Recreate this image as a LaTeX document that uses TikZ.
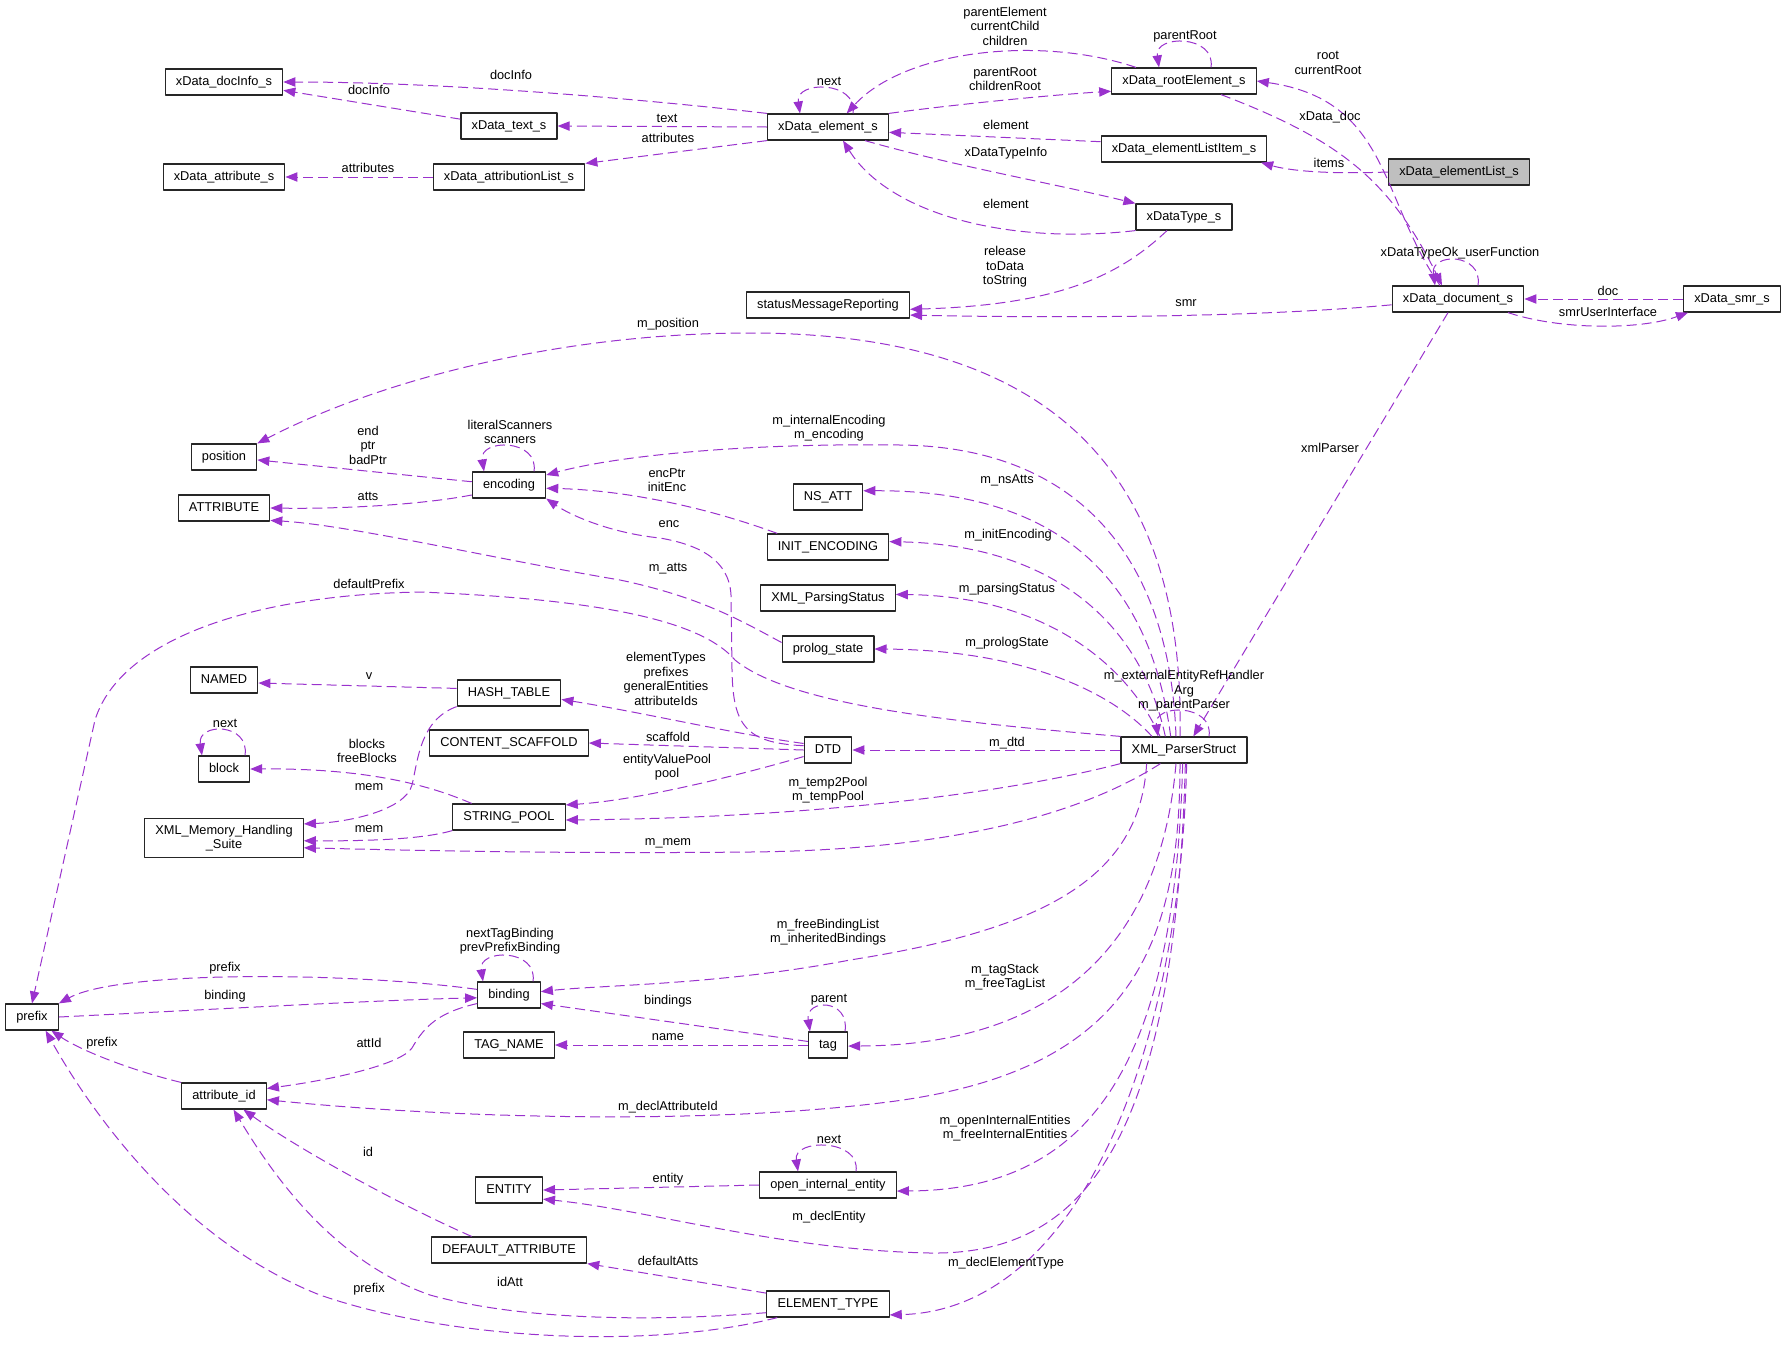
\documentclass[tikz,border=0pt]{standalone}
\usepackage{fontspec}
\setmainfont{Liberation Sans}
\usetikzlibrary{arrows.meta}
\definecolor{edgecol}{HTML}{9A32CD}
\definecolor{boxgray}{HTML}{BFBFBF}
\newcommand\dgfont{\fontsize{9.6pt}{10.9pt}\selectfont}
\begin{document}
\begin{tikzpicture}[x=0.75pt,y=-0.75pt,line join=round,
  cls/.style={draw=black!85,line width=0.9pt,fill=white,font=\dgfont,inner xsep=8pt,inner ysep=0pt,minimum height=19.5pt,text height=7pt,text depth=2pt},
  cls2/.style={draw=black!85,line width=0.9pt,fill=white,font=\dgfont,inner xsep=8pt,inner ysep=5pt,align=center},
  rel/.style={draw=edgecol,line width=0.75pt,dash pattern=on 7.5pt off 3.75pt,-{Triangle[length=9pt,width=7pt]}},
  lbl/.style={font=\dgfont,inner sep=0pt,align=center}]
  \useasboundingbox (0,0) rectangle (1787,1353);
  \node[cls] (docinfo) at (224,82) {xData\_docInfo\_s};
  \node[cls] (text) at (509,126) {xData\_text\_s};
  \node[cls] (attr) at (224,177) {xData\_attribute\_s};
  \node[cls] (attrlist) at (509,177) {xData\_attributionList\_s};
  \node[cls] (elem) at (828,127) {xData\_element\_s};
  \node[cls] (root) at (1184,81) {xData\_rootElement\_s};
  \node[cls] (listitem) at (1184,149) {xData\_elementListItem\_s};
  \node[cls,fill=boxgray] (list) at (1459,172) {xData\_elementList\_s};
  \node[cls] (dtype) at (1184,217) {xDataType\_s};
  \node[cls] (smr) at (828,305) {statusMessageReporting};
  \node[cls] (doc) at (1458,299) {xData\_document\_s};
  \node[cls] (smrs) at (1732,299) {xData\_smr\_s};
  \node[cls] (position) at (224,457) {position};
  \node[cls] (attribute) at (224,508) {ATTRIBUTE};
  \node[cls] (encoding) at (509,485) {encoding};
  \node[cls] (named) at (224,680) {NAMED};
  \node[cls] (hash) at (509,693) {HASH\_TABLE};
  \node[cls] (scaffold) at (509,743) {CONTENT\_SCAFFOLD};
  \node[cls] (block) at (224,769) {block};
  \node[cls] (spool) at (509,817) {STRING\_POOL};
  \node[cls2] (memsuite) at (224,838) {XML\_Memory\_Handling\\\_Suite};
  \node[cls] (nsatt) at (828,497) {NS\_ATT};
  \node[cls] (initenc) at (828,547) {INIT\_ENCODING};
  \node[cls] (pstatus) at (828,598) {XML\_ParsingStatus};
  \node[cls] (prolog) at (828,649) {prolog\_state};
  \node[cls] (dtd) at (828,750) {DTD};
  \node[cls] (parser) at (1184,750) {XML\_ParserStruct};
  \node[cls] (prefix) at (32,1017) {prefix};
  \node[cls] (binding) at (509,995) {binding};
  \node[cls] (tagname) at (509,1045) {TAG\_NAME};
  \node[cls] (attid) at (224,1096) {attribute\_id};
  \node[cls] (entity) at (509,1190) {ENTITY};
  \node[cls] (defattr) at (509,1250) {DEFAULT\_ATTRIBUTE};
  \node[cls] (tag) at (828,1045) {tag};
  \node[cls] (openent) at (828,1185) {open\_internal\_entity};
  \node[cls] (elemtype) at (828,1304) {ELEMENT\_TYPE};

  \draw[rel] (elem.north west) .. controls (650,100) and (450,82) .. (docinfo.east);
  \draw[rel] (text.172) -- (docinfo.-8);
  \draw[rel] (elem.west) -- (text.east);
  \draw[rel] (elem.south west) -- (attrlist.north east);
  \draw[rel] (attrlist.west) -- (attr.east);
  \draw[rel] ([xshift=18.75pt]elem.north) .. controls +(5,-33) and +(-5,-33) .. ([xshift=-21pt]elem.north);
  \draw[rel] ([xshift=-36pt]root.north) .. controls (1040,35) and (905,50) .. ([xshift=14pt]elem.north);
  \draw[rel] (elem.north east) .. controls (950,105) and (1050,95) .. (root.188);
  \draw[rel] ([xshift=20.25pt]root.north) .. controls +(5,-33) and +(-5,-33) .. ([xshift=-18.75pt]root.north);
  \draw[rel] (listitem.175) -- (elem.-5);
  \draw[rel] ([xshift=27.75pt]elem.south) .. controls (950,165) and (1060,185) .. (dtype.north west);
  \draw[rel] (dtype.south west) .. controls (1010,245) and (890,215) .. ([xshift=11.25pt]elem.south);
  \draw[rel] ([xshift=-12.75pt]dtype.south) .. controls (1120,275) and (1060,305) .. (smr.-3);
  \draw[rel] (doc.-175) .. controls (1250,318) and (1050,318) .. (smr.-7);
  \draw[rel] (list.west) .. controls (1310,175) and (1280,168) .. (listitem.-10);
  \draw[rel] ([xshift=-13.5pt]doc.north) .. controls (1380,200) and (1390,100) .. (root.east);
  \draw[rel] ([xshift=27.75pt]root.south) .. controls (1340,140) and (1390,180) .. ([xshift=-12pt]doc.north);
  \draw[rel] ([xshift=15pt]doc.north) .. controls +(5,-33) and +(-5,-33) .. ([xshift=-17.25pt]doc.north);
  \draw[rel] (smrs.west) -- (doc.east);
  \draw[rel] ([xshift=37.5pt]doc.south) .. controls (1560,330) and (1640,330) .. ([xshift=-33pt]smrs.south);
  \draw[rel] ([xshift=-7.5pt]doc.south) -- ([xshift=7pt]parser.north);

  \draw[rel] ([xshift=-3pt]parser.north) .. controls (1185,480) and (1060,333) .. (750,333) .. controls (560,333) and (380,380) .. (position.north east);
  \draw[rel] ([xshift=-6pt]parser.north) .. controls (1170,560) and (1080,447) .. (900,445) .. controls (750,443) and (620,455) .. (encoding.15);
  \draw[rel] ([xshift=-10pt]parser.north) .. controls (1150,580) and (1060,490) .. (nsatt.10);
  \draw[rel] ([xshift=-14pt]parser.north) .. controls (1140,620) and (1050,545) .. (initenc.5);
  \draw[rel] ([xshift=-18pt]parser.north) .. controls (1125,660) and (1040,596) .. (pstatus.3);
  \draw[rel] ([xshift=-24pt]parser.north) .. controls (1110,690) and (1020,650) .. (prolog.east);
  \draw[rel] ([xshift=18.75pt]parser.north) .. controls +(5,-33) and +(-5,-33) .. ([xshift=-19.5pt]parser.north);
  \draw[rel] (parser.north west) .. controls (950,722) and (790,705) .. (735,660) .. controls (705,625) and (620,600) .. (420,592) .. controls (250,595) and (120,640) .. (95,720) -- (prefix.north);
  \draw[rel] (prolog.172) .. controls (740,620) and (700,597) .. (620,580) .. controls (500,560) and (350,525) .. (attribute.-15);
  \draw[rel] (dtd.170) .. controls (745,743) and (733,725) .. (732,670) -- (731,595) .. controls (729,560) and (700,545) .. (660,538) .. controls (610,533) and (570,515) .. (encoding.-20);
  \draw[rel] ([xshift=18.75pt]encoding.north) .. controls +(5,-33) and +(-5,-33) .. ([xshift=-18.75pt]encoding.north);
  \draw[rel] (encoding.175) -- (position.-5);
  \draw[rel] (encoding.-165) .. controls (420,505) and (340,509) .. (attribute.east);
  \draw[rel] (initenc.165) .. controls (700,505) and (620,490) .. (encoding.-5);

  \draw[rel] (hash.175) -- (named.-5);
  \draw[rel] (dtd.165) .. controls (740,735) and (640,712) .. (hash.-7);
  \draw[rel] (dtd.west) -- (scaffold.east);
  \draw[rel] (dtd.-165) .. controls (740,775) and (640,800) .. (spool.12);
  \draw[rel] (parser.west) -- (dtd.east);
  \draw[rel] (parser.south west) .. controls (1000,795) and (800,818) .. (spool.-3);
  \draw[rel] (parser.-150) .. controls (1080,815) and (950,850) .. (750,852) .. controls (550,854) and (400,850) .. (memsuite.-7);
  \draw[rel] (spool.south west) .. controls (420,840) and (360,841) .. (memsuite.-2);
  \draw[rel] (hash.south west) .. controls (420,720) and (418,760) .. (412,785) .. controls (405,810) and (350,822) .. (memsuite.10);
  \draw[rel] (spool.160) .. controls (440,790) and (380,768) .. (block.east);
  \draw[rel] ([xshift=15.75pt]block.north) .. controls +(5,-33) and +(-5,-33) .. ([xshift=-16.5pt]block.north);

  \draw[rel] (parser.-160) .. controls (1140,880) and (1040,930) .. (850,960) .. controls (720,985) and (600,985) .. (binding.6);
  \draw[rel] ([xshift=18pt]binding.north) .. controls +(5,-33) and +(-5,-33) .. ([xshift=-19.5pt]binding.north);
  \draw[rel] (binding.170) .. controls (350,972) and (120,970) .. (prefix.north east);
  \draw[rel] (prefix.east) .. controls (200,1010) and (380,1000) .. (binding.-175);
  \draw[rel] (binding.-165) .. controls (440,1012) and (425,1025) .. (412,1048) .. controls (400,1065) and (330,1080) .. (attid.10);
  \draw[rel] (attid.north west) .. controls (130,1070) and (80,1050) .. (prefix.-35);
  \draw[rel] (tag.170) -- (binding.-15);
  \draw[rel] (tag.west) -- (tagname.east);
  \draw[rel] ([xshift=12.75pt]tag.north) .. controls +(5,-33) and +(-5,-33) .. ([xshift=-13.5pt]tag.north);
  \draw[rel] ([xshift=-6pt]parser.south) .. controls (1160,950) and (1050,1045) .. (tag.-3);
  \draw[rel] ([xshift=-3pt]parser.south) .. controls (1180,960) and (1120,1075) .. (880,1103) .. controls (700,1125) and (450,1118) .. (attid.-5);
  \draw[rel] ([xshift=-1pt]parser.south) .. controls (1175,1050) and (1100,1190) .. (openent.-5);
  \draw[rel] ([xshift=21pt]openent.north) .. controls +(5,-33) and +(-5,-33) .. ([xshift=-22.5pt]openent.north);
  \draw[rel] (openent.west) -- (entity.east);
  \draw[rel] ([xshift=1pt]parser.south) .. controls (1175,1150) and (1080,1255) .. (930,1253) .. controls (780,1250) and (650,1210) .. (entity.-15);
  \draw[rel] (defattr.160) .. controls (400,1205) and (300,1150) .. (attid.-35);
  \draw[rel] (elemtype.170) -- (defattr.south east);
  \draw[rel] ([xshift=2pt]parser.south) .. controls (1180,1050) and (1080,1310) .. (elemtype.-10);
  \draw[rel] (elemtype.-172) .. controls (650,1322) and (520,1320) .. (430,1295) .. controls (330,1260) and (270,1170) .. (attid.-55);
  \draw[rel] (elemtype.-165) .. controls (650,1350) and (450,1340) .. (320,1295) .. controls (180,1240) and (90,1110) .. (prefix.-45);

  \node[lbl] (l-docinfo-a) at (511,75) {docInfo};
  \node[lbl] (l-docinfo-b) at (369,90) {docInfo};
  \node[lbl] (l-attributes-a) at (368,168) {attributes};
  \node[lbl] (l-next-a) at (829,81) {next};
  \node[lbl] (l-text) at (667,118) {text};
  \node[lbl] (l-attributes-b) at (668,138) {attributes};
  \node[lbl] (l-parentelement) at (1005,26) {parentElement\\currentChild\\children};
  \node[lbl] (l-parentroot-a) at (1005,79) {parentRoot\\childrenRoot};
  \node[lbl] (l-parentroot-b) at (1185,36) {parentRoot};
  \node[lbl] (l-element-a) at (1006,125) {element};
  \node[lbl] (l-typeinfo) at (1006,153) {xDataTypeInfo};
  \node[lbl] (l-element-b) at (1006,204) {element};
  \node[lbl] (l-release) at (1005,267) {release\\toData\\toString};
  \node[lbl] (l-smr) at (1186,303) {smr};
  \node[lbl] (l-mposition) at (668,324) {m\_position};
  \node[lbl] (l-root) at (1328,63) {root\\currentRoot};
  \node[lbl] (l-xdatadoc) at (1330,117) {xData\_doc};
  \node[lbl] (l-items) at (1329,163) {items};
  \node[lbl] (l-typeok) at (1460,253) {xDataTypeOk\_userFunction};
  \node[lbl] (l-doc) at (1608,291) {doc};
  \node[lbl] (l-smrui) at (1608,312) {smrUserInterface};
  \node[lbl] (l-end) at (368,445) {end\\ptr\\badPtr};
  \node[lbl] (l-scanners) at (510,432) {literalScanners\\scanners};
  \node[lbl] (l-atts) at (368,496) {atts};
  \node[lbl] (l-defprefix) at (369,584) {defaultPrefix};
  \node[lbl] (l-v) at (369,676) {v};
  \node[lbl] (l-next-b) at (225,723) {next};
  \node[lbl] (l-blocks) at (367,751) {blocks\\freeBlocks};
  \node[lbl] (l-mem-a) at (369,787) {mem};
  \node[lbl] (l-mem-b) at (369,829) {mem};
  \node[lbl] (l-mencoding) at (829,428) {m\_internalEncoding\\m\_encoding};
  \node[lbl] (l-encptr) at (667,480) {encPtr\\initEnc};
  \node[lbl] (l-enc) at (669,524) {enc};
  \node[lbl] (l-matts) at (668,569) {m\_atts};
  \node[lbl] (l-nsatts) at (1007,480) {m\_nsAtts};
  \node[lbl] (l-initenc) at (1008,535) {m\_initEncoding};
  \node[lbl] (l-pstatus) at (1007,589) {m\_parsingStatus};
  \node[lbl] (l-prolog) at (1007,643) {m\_prologState};
  \node[lbl] (l-elemtypes) at (666,679) {elementTypes\\prefixes\\generalEntities\\attributeIds};
  \node[lbl] (l-handler) at (1184,691) {m\_externalEntityRefHandler\\Arg\\m\_parentParser};
  \node[lbl] (l-scaffold) at (668,737) {scaffold};
  \node[lbl] (l-mdtd) at (1007,743) {m\_dtd};
  \node[lbl] (l-pool) at (667,767) {entityValuePool\\pool};
  \node[lbl] (l-temppool) at (828,790) {m\_temp2Pool\\m\_tempPool};
  \node[lbl] (l-mmem) at (668,843) {m\_mem};
  \node[lbl] (l-xmlparser) at (1330,448) {xmlParser};
  \node[lbl] (l-tagbinding) at (510,941) {nextTagBinding\\prevPrefixBinding};
  \node[lbl] (l-prefix-a) at (225,968) {prefix};
  \node[lbl] (l-binding) at (225,996) {binding};
  \node[lbl] (l-prefix-b) at (102,1043) {prefix};
  \node[lbl] (l-attid) at (369,1043) {attId};
  \node[lbl] (l-id) at (368,1152) {id};
  \node[lbl] (l-idatt) at (510,1282) {idAtt};
  \node[lbl] (l-prefix-c) at (369,1289) {prefix};
  \node[lbl] (l-freebinding) at (828,932) {m\_freeBindingList\\m\_inheritedBindings};
  \node[lbl] (l-tagstack) at (1005,977) {m\_tagStack\\m\_freeTagList};
  \node[lbl] (l-bindings) at (668,1001) {bindings};
  \node[lbl] (l-parent) at (829,1000) {parent};
  \node[lbl] (l-name) at (668,1037) {name};
  \node[lbl] (l-declattid) at (668,1107) {m\_declAttributeId};
  \node[lbl] (l-openent) at (1005,1128) {m\_openInternalEntities\\m\_freeInternalEntities};
  \node[lbl] (l-next-c) at (829,1139) {next};
  \node[lbl] (l-entity) at (668,1179) {entity};
  \node[lbl] (l-declentity) at (829,1217) {m\_declEntity};
  \node[lbl] (l-defatts) at (668,1261) {defaultAtts};
  \node[lbl] (l-decltype) at (1006,1263) {m\_declElementType};
\end{tikzpicture}
\end{document}
